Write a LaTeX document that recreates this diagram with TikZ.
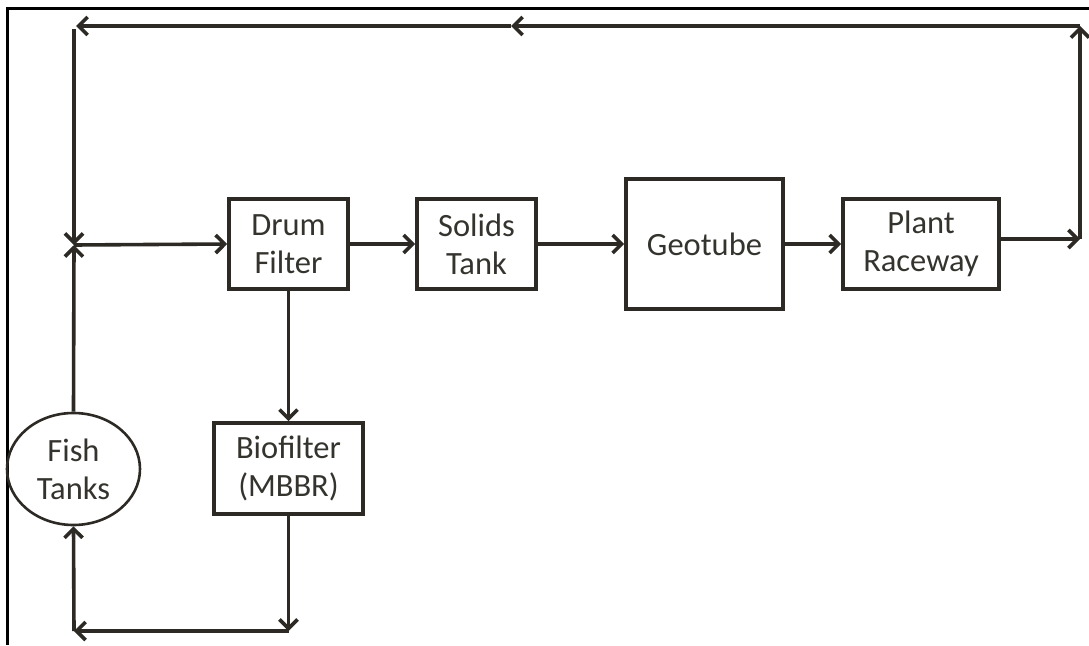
\documentclass[tikz,border=0pt]{standalone}
\usepackage{fontspec}
\setmainfont{Carlito}
\usetikzlibrary{shapes.geometric, arrows.meta}
\definecolor{linecol}{HTML}{2D2A25}
\definecolor{textcol}{HTML}{35332E}

\begin{document}
\begin{tikzpicture}[
    x=1pt, y=-1pt,
    font=\fontsize{32.5}{38}\selectfont,
    % styles
    unit/.style={rectangle, draw=linecol, line width=3.6pt, text=textcol, align=center, inner sep=0pt},
    tank/.style={ellipse, draw=linecol, line width=2.6pt, text=textcol, align=center, inner sep=0pt, minimum width=133, minimum height=112},
    flow/.style={-{Straight Barb[length=9pt, width=18pt, line width=3.6pt]}, line width=3.6pt, draw=linecol},
    frame/.style={line width=3pt, draw=black}
]
    \useasboundingbox (0,0) rectangle (1089,645);

    % --- frame ---
    \draw[frame] (7,645) -- (7,8) -- (1089,8);

    % --- units ---
    \node (drum) [unit, minimum width=119, minimum height=90] at (288.5,244) {Drum\\Filter};
    \node (solids) [unit, minimum width=119, minimum height=90] at (476.5,244) {Solids\\Tank};
    \node (geo) [unit, minimum width=157, minimum height=130] at (704.5,244) {Geotube};
    \node (plant) [unit, minimum width=156, minimum height=90] at (921,244) {Plant\\Raceway};
    \node (bio) [unit, minimum width=149, minimum height=91] at (288.5,468.5) {Biofilter\\(MBBR)};
    \node (fish) [tank] at (73.5,469) {Fish\\Tanks};

    % --- pipe corners ---
    \coordinate (junc) at (74,245);
    \coordinate (topL) at (74,26);
    \coordinate (topM) at (511,26);
    \coordinate (topR) at (1080,26);
    \coordinate (outR) at (1080,239);
    \coordinate (botR) at (288.5,631);
    \coordinate (botL) at (74,631);

    % --- main line ---
    \draw[flow] (junc) -- (drum.west);
    \draw[flow] (drum) -- (solids);
    \draw[flow] (solids) -- (geo);
    \draw[flow] (geo) -- (plant);

    % --- return to fish tanks ---
    \draw[flow] ([yshift=5pt]plant.east) -- (outR);
    \draw[flow] (outR) -- (topR);
    \draw[flow] (topR) -- (topM);
    \draw[flow] (topM) -- ([xshift=2pt]topL);
    \draw[flow] ([yshift=-3pt]topL) -- (junc);

    % --- biofilter loop ---
    \draw[flow] (drum) -- (bio);
    \draw[flow] (bio) -- (botR);
    \draw[flow] (botR) -- (botL);
    \draw[flow] (botL) -- (fish.south);
    \draw[flow] (fish.north) -- (junc);

\end{tikzpicture}
\end{document}
